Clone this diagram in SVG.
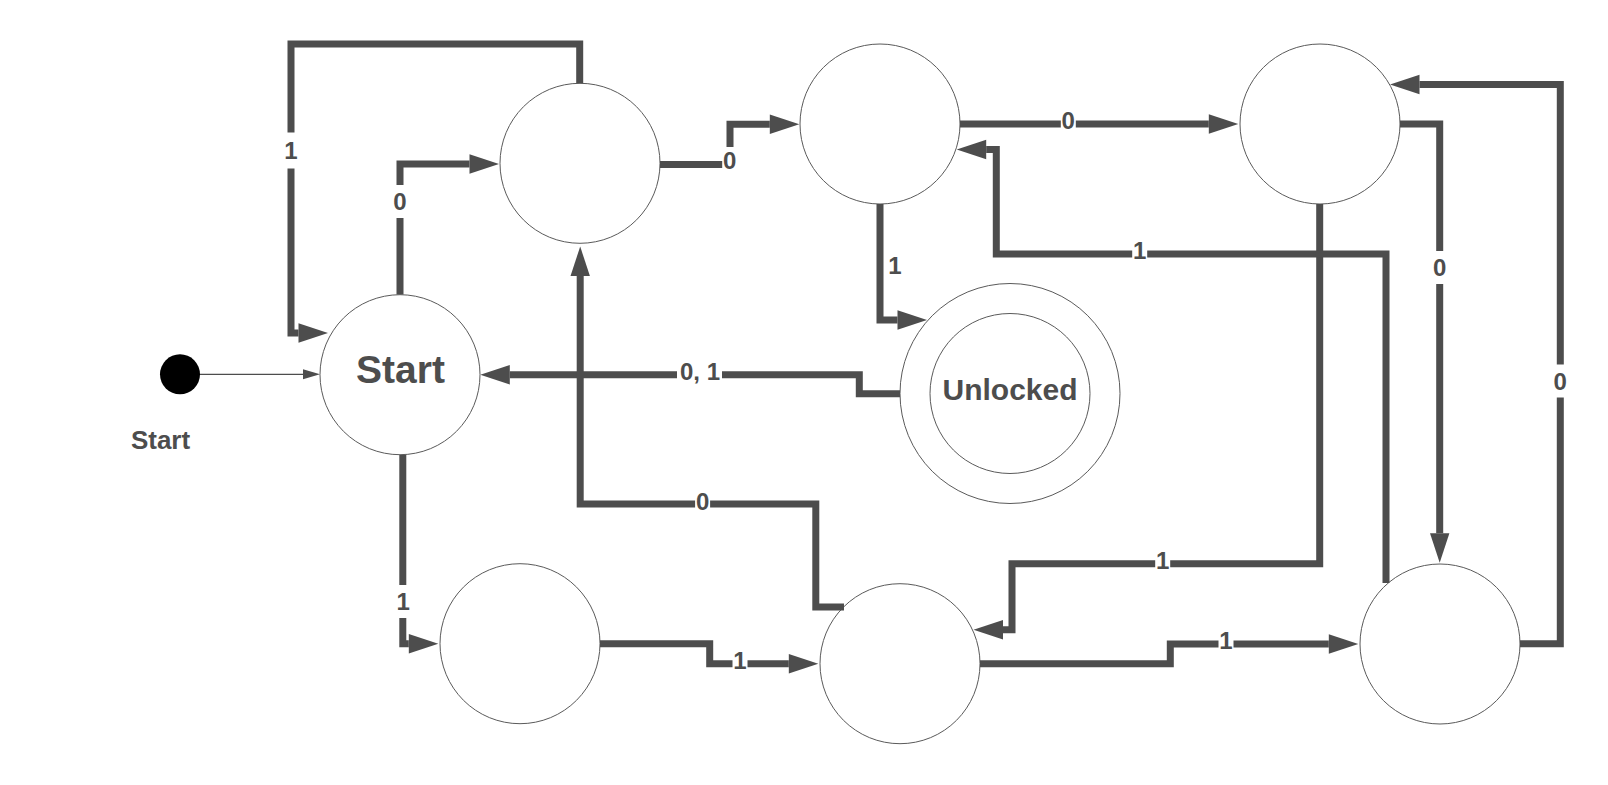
<svg xmlns="http://www.w3.org/2000/svg" width="1608" height="785" viewBox="0 0 1608 785">
  <defs>
    <style>
      .state { fill: #ffffff; stroke: #5a5a5a; stroke-width: 1; }
      .edge { fill: none; stroke: #4d4d4d; stroke-width: 7; stroke-linejoin: miter; stroke-linecap: butt; marker-end: url(#arr); }
      .lbl { font-family: "Liberation Sans", Arial, sans-serif; font-weight: bold; font-size: 24px; fill: #4d4d4d; text-anchor: middle; }
      .gap { fill: #ffffff; }
      .name { font-family: "Liberation Sans", Arial, sans-serif; font-weight: bold; fill: #4d4d4d; text-anchor: middle; }
    </style>
    <marker id="arr" markerUnits="userSpaceOnUse" markerWidth="30" markerHeight="20" refX="0" refY="10" orient="auto" overflow="visible">
      <path d="M0,0.3 L29.5,10 L0,19.7 Z" fill="#4d4d4d"/>
    </marker>
    <marker id="arrs" markerUnits="userSpaceOnUse" markerWidth="18" markerHeight="12" refX="0" refY="5" orient="auto" overflow="visible">
      <path d="M0,0 L17,5 L0,10 Z" fill="#4d4d4d"/>
    </marker>
  </defs>
  <rect x="0" y="0" width="1608" height="785" fill="#ffffff"/>

  <g id="initial">
    <circle cx="180" cy="374.3" r="20" fill="#000000"/>
    <text class="name" x="160.5" y="449.3" font-size="26">Start</text>
  </g>
  <g id="state-start">
    <circle class="state" cx="400" cy="374.7" r="80"/>
    <text class="name" x="400.5" y="382.7" font-size="39">Start</text>
  </g>
  <g id="state-a"><circle class="state" cx="580" cy="163.3" r="80"/></g>
  <g id="state-b"><circle class="state" cx="880" cy="124" r="80"/></g>
  <g id="state-c"><circle class="state" cx="1320" cy="124" r="80"/></g>
  <g id="state-unlocked">
    <circle class="state" cx="1010" cy="393.5" r="110"/>
    <circle class="state" cx="1010" cy="393.5" r="80"/>
    <text class="name" x="1010" y="400" font-size="30">Unlocked</text>
  </g>
  <g id="state-d"><circle class="state" cx="1440" cy="644" r="80"/></g>
  <g id="state-e"><circle class="state" cx="900" cy="663.7" r="80"/></g>
  <g id="state-f"><circle class="state" cx="520" cy="643.7" r="80"/></g>

  <g id="connectors">
    <path d="M200,374.3 H303" fill="none" stroke="#4d4d4d" stroke-width="1.2" marker-end="url(#arrs)"/>
    <path class="edge" d="M579.7,83.3 V44 H291 V333 H298.5"/>
    <path class="edge" d="M400,294.5 V164 H469.5"/>
    <path class="edge" d="M660,164.5 H730 V124.3 H769.8"/>
    <path class="edge" d="M960,124 H1208.8"/>
    <path class="edge" d="M880,204 V320 H897.5"/>
    <path class="edge" d="M900,393.8 H859.3 V374.8 H509.8"/>
    <path class="edge" d="M844,607 H815.8 V504 H580.2 V276"/>
    <path class="edge" d="M1400,124 H1439.7 V533.2"/>
    <path class="edge" d="M1520,643.7 H1560.3 V84.5 H1419.5"/>
    <path class="edge" d="M1319.7,204 V563.8 H1012 V629.7 H1003"/>
    <path class="edge" d="M1386,583 V254 H996.3 V149.5 H986.2"/>
    <path class="edge" d="M402.8,455 V643.7 H408.8"/>
    <path class="edge" d="M600,643.7 H709.7 V663.7 H788.8"/>
    <path class="edge" d="M980,663.7 H1170.3 V644 H1328.8"/>

    <g id="labels">
      <rect class="gap" x="284" y="132.5" width="14" height="36"/>
      <text class="lbl" x="291" y="159.1">1</text>
      <rect class="gap" x="392.5" y="185" width="15" height="33"/>
      <text class="lbl" x="400" y="209.6">0</text>
      <rect class="gap" x="722.2" y="147" width="15" height="26"/>
      <text class="lbl" x="729.7" y="168.6">0</text>
      <rect class="gap" x="1060.8" y="108" width="15" height="26"/>
      <text class="lbl" x="1068.3" y="129.1">0</text>
      <text class="lbl" x="895" y="274.1">1</text>
      <rect class="gap" x="677" y="358" width="45" height="26"/>
      <text class="lbl" x="700" y="379.6">0, 1</text>
      <rect class="gap" x="1132.2" y="238" width="15" height="26"/>
      <text class="lbl" x="1139.7" y="259.1">1</text>
      <rect class="gap" x="1432.2" y="251" width="15" height="33"/>
      <text class="lbl" x="1439.7" y="276.1">0</text>
      <rect class="gap" x="1552.8" y="364.5" width="15" height="33"/>
      <text class="lbl" x="1560.3" y="389.6">0</text>
      <rect class="gap" x="1155.2" y="548" width="15" height="26"/>
      <text class="lbl" x="1162.7" y="569.1">1</text>
      <rect class="gap" x="1218.5" y="628" width="15" height="26"/>
      <text class="lbl" x="1226" y="649.1">1</text>
      <rect class="gap" x="695.1" y="489" width="15" height="26"/>
      <text class="lbl" x="702.6" y="509.6">0</text>
      <rect class="gap" x="732.5" y="648" width="15" height="26"/>
      <text class="lbl" x="740" y="669.1">1</text>
      <rect class="gap" x="395.8" y="585" width="15" height="33"/>
      <text class="lbl" x="403.3" y="610.3">1</text>
    </g>
  </g>
</svg>
